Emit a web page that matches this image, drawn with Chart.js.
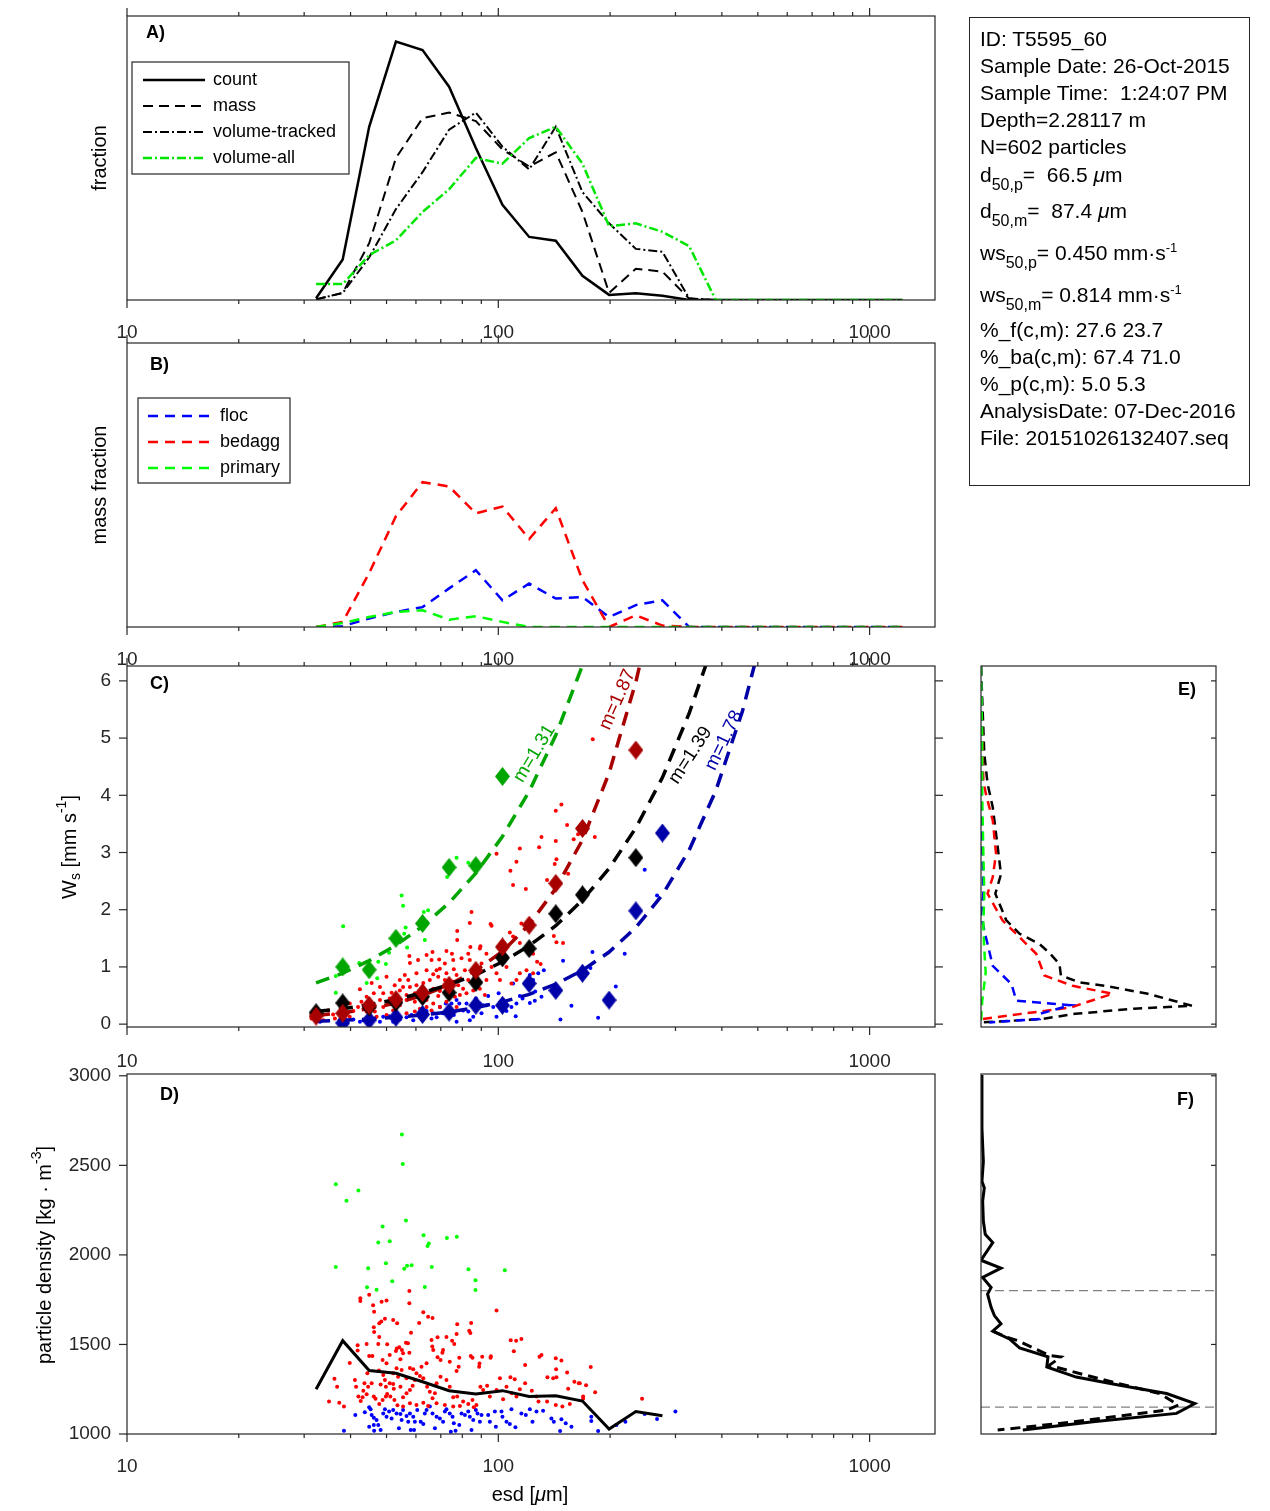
<!DOCTYPE html>
<html><head><meta charset="utf-8">
<script src="https://cdn.jsdelivr.net/npm/chart.js@4/dist/chart.umd.min.js"></script>
<style>
html,body{margin:0;padding:0;background:#fff;overflow:hidden;}
#wrap{position:relative;width:1270px;height:1511px;overflow:hidden;}
canvas.pl{position:absolute;left:0;top:0;}
#info{position:absolute;left:969px;top:17px;width:281px;height:469px;border:1.3px solid #262626;box-sizing:border-box;font-family:'Liberation Sans',Arial,sans-serif;font-size:21px;color:#000;}
#info div{position:absolute;left:10px;white-space:pre;line-height:24px;}
#info sub{font-size:16px;vertical-align:-8px;line-height:0;}
#info sup{font-size:13px;vertical-align:8px;line-height:0;}
</style></head>
<body><div id="wrap">
<canvas class="pl" id="cA" width="1270" height="1511"></canvas>
<canvas class="pl" id="cB" width="1270" height="1511"></canvas>
<canvas class="pl" id="cC" width="1270" height="1511"></canvas>
<canvas class="pl" id="cD" width="1270" height="1511"></canvas>
<canvas class="pl" id="cE" width="1270" height="1511"></canvas>
<canvas class="pl" id="cF" width="1270" height="1511"></canvas>
<div id="info">
<div style="top:9px">ID: T5595_60</div>
<div style="top:36px">Sample Date: 26-Oct-2015</div>
<div style="top:63px">Sample Time:  1:24:07 PM</div>
<div style="top:90px">Depth=2.28117 m</div>
<div style="top:117px">N=602 particles</div>
<div style="top:145px">d<sub>50,p</sub>=  66.5 <i>μ</i>m</div>
<div style="top:181px">d<sub>50,m</sub>=  87.4 <i>μ</i>m</div>
<div style="top:223px">ws<sub>50,p</sub>= 0.450 mm·s<sup>-1</sup></div>
<div style="top:265px">ws<sub>50,m</sub>= 0.814 mm·s<sup>-1</sup></div>
<div style="top:300px">%_f(c,m): 27.6 23.7</div>
<div style="top:327px">%_ba(c,m): 67.4 71.0</div>
<div style="top:354px">%_p(c,m): 5.0 5.3</div>
<div style="top:381px">AnalysisDate: 07-Dec-2016</div>
<div style="top:408px">File: 20151026132407.seq</div>
</div>
</div>
<script>
// ---------------- DATA ----------------
const bins = [32.3, 38.1, 44.9, 53.0, 62.5, 73.7, 87.0, 102.6, 121.1, 142.8, 168.5, 198.8, 234.6, 276.7, 326.5, 385.2, 454.4, 536.1, 632.5, 746.2, 880.4, 1038.7, 1225.4];
const xTickValues = [10, 100, 1000];
const xMinorTicks = [20, 30, 40, 50, 60, 70, 80, 90, 200, 300, 400, 500, 600, 700, 800, 900];

// Panel A (fraction)
const fracCount = [0.006, 0.143, 0.61, 0.91, 0.88, 0.751, 0.535, 0.335, 0.222, 0.209, 0.085, 0.018, 0.024, 0.015, 0, 0, 0, 0, 0, 0, 0, 0, 0];
const fracMass = [0.002, 0.025, 0.20, 0.50, 0.64, 0.66, 0.63, 0.53, 0.47, 0.52, 0.31, 0.025, 0.11, 0.10, 0.005, 0, 0, 0, 0, 0, 0, 0, 0];
const fracVolTracked = [0.002, 0.025, 0.15, 0.32, 0.45, 0.60, 0.66, 0.54, 0.46, 0.61, 0.38, 0.27, 0.18, 0.17, 0.006, 0, 0, 0, 0, 0, 0, 0, 0];
const fracVolAll = [0.056, 0.056, 0.158, 0.21, 0.31, 0.39, 0.50, 0.48, 0.57, 0.61, 0.48, 0.26, 0.27, 0.24, 0.19, 0, 0, 0, 0, 0, 0, 0, 0];

// Panel B (mass fraction)
const mfFloc = [0, 0.003, 0.03, 0.053, 0.07, 0.136, 0.20, 0.094, 0.153, 0.10, 0.106, 0.035, 0.077, 0.094, 0, 0, 0, 0, 0, 0, 0, 0, 0];
const mfBedagg = [0, 0.018, 0.19, 0.39, 0.51, 0.495, 0.40, 0.424, 0.31, 0.418, 0.165, 0, 0.041, 0.005, 0, 0, 0, 0, 0, 0, 0, 0, 0];
const mfPrimary = [0, 0.014, 0.035, 0.053, 0.059, 0.026, 0.038, 0.018, 0, 0, 0, 0, 0, 0, 0, 0, 0, 0, 0, 0, 0, 0, 0];

// Panel C (settling velocity)
const wsTicks = [0, 1, 2, 3, 4, 5, 6];
const binWsAll = [0.2, 0.37, 0.3, 0.38, 0.48, 0.55, 0.73, 1.16, 1.32, 1.93, 2.26, null, 2.91];
const binWsBedagg = [0.14, 0.19, 0.33, 0.43, 0.55, 0.68, 0.94, 1.35, 1.73, 2.46, 3.42, null, 4.79];
const binWsFloc = [null, 0.02, 0.07, 0.12, 0.17, 0.21, 0.33, 0.33, 0.71, 0.59, 0.89, 0.42, 1.98, 3.34];
const binWsPrimary = [null, 1.0, 0.95, 1.5, 1.76, 2.74, 2.77, 4.33];

const fitGreenEsd = [32.3, 38.1, 44.9, 53.0, 62.5, 73.7, 87.0, 102.6, 121.1, 142.8, 168.5];
const fitGreenWs = [0.72, 0.89, 1.11, 1.38, 1.71, 2.12, 2.64, 3.28, 4.07, 5.05, 6.27];
const fitRedEsd = [32.3, 38.1, 44.9, 53.0, 62.5, 73.7, 87.0, 102.6, 121.1, 142.8, 168.5, 198.8, 234.6, 245];
const fitRedWs = [0.15, 0.20, 0.27, 0.37, 0.50, 0.69, 0.94, 1.27, 1.74, 2.37, 3.22, 4.39, 5.98, 6.5];
const fitBlackEsd = [32.3, 38.1, 44.9, 53.0, 62.5, 73.7, 87.0, 102.6, 121.1, 142.8, 168.5, 198.8, 234.6, 276.7, 326.5, 370];
const fitBlackWs = [0.22, 0.27, 0.34, 0.43, 0.55, 0.69, 0.86, 1.09, 1.37, 1.72, 2.17, 2.72, 3.43, 4.31, 5.43, 6.45];
const fitBlueEsd = [32.3, 38.1, 44.9, 53.0, 62.5, 73.7, 87.0, 102.6, 121.1, 142.8, 168.5, 198.8, 234.6, 276.7, 326.5, 385.2, 454.4, 500];
const fitBlueWs = [0.05, 0.066, 0.089, 0.12, 0.16, 0.21, 0.29, 0.39, 0.52, 0.70, 0.94, 1.26, 1.69, 2.26, 3.04, 4.08, 5.47, 6.5];

const cGreenEsd = [38.2, 36.5, 36.5, 42.2, 47.5, 49.8, 47.2, 50.8, 54.9, 55.4, 56.3, 63.4, 63.0, 64.7, 56.8, 77.2, 72.8, 83.0, 44.2, 55.8];
const cGreenWs = [1.71, 0.84, 0.55, 1.07, 1.09, 1.05, 0.80, 1.25, 2.25, 2.07, 1.69, 1.47, 1.96, 1.99, 1.34, 2.91, 2.57, 2.82, 0.72, 1.58];

const cRedEsd = [147.9,142.8,153.2,130.7,142.8,159.6,164.0,181.9,114.3,128.8,
98.9,143.4,111.9,107.8,141.9,154.2,135.3,109.6,118.6,84.7,
83.8,95.3,95.9,115.4,107.4,109.6,114.3,141.1,149.4,143.4,
77.5,77.5,64.1,66.5,72.5,69.3,75.0,75.6,83.0,84.1,
89.2,89.5,92.9,101.0,103.0,105.2,124.1,127.2,57.6,57.8,
60.8,69.6,68.2,72.5,75.9,77.2,81.3,87.3,95.9,98.9,
101.0,108.5,114.3,119.1,130.0,124.1,92.9,83.0,66.8,65.4,
62.8,60.2,57.8,54.3,50.0,48.0,45.6,42.4,46.2,49.0,
51.6,54.3,56.6,59.6,63.4,66.8,69.6,72.5,76.4,78.8,
82.1,85.6,89.2,92.0,80.4,42.8,45.1,46.5,49.0,50.5,
52.1,54.3,56.6,59.6,61.5,64.1,66.8,69.6,72.5,77.2,
59.6,56.6,53.2,50.0,47.0,44.2,40.7,39.8,38.2,35.9,
34.8,33.1,31.4,33.8,61.5,64.1,66.1,68.9,71.0,74.8,
78.0,83.8,89.2,105.2,111.9,90.1,68.9,71.8,75.6,52.6,
56.0,44.2,48.0,51.0,39.8,36.3,38.2,41.9,66.1,64.1,
60.2,57.2,55.4,71.8,79.6,179.6];
const cRedWs = [3.84,3.73,3.48,3.27,3.20,3.23,3.32,3.27,3.07,3.09,
2.98,2.88,2.84,2.68,2.80,2.63,2.52,2.43,2.36,1.96,
1.77,1.75,1.72,1.76,1.60,1.53,1.42,1.54,1.42,1.43,
1.63,1.47,1.21,1.26,1.28,1.13,1.23,1.12,1.23,1.35,
1.32,1.36,1.23,1.23,1.12,1.18,1.23,1.09,1.19,1.07,
1.12,0.97,0.94,0.89,0.96,0.86,0.94,0.86,1.00,0.89,
0.77,0.71,0.89,0.94,1.05,0.89,0.77,0.77,0.87,0.77,
0.72,0.68,0.65,0.77,0.83,0.65,0.72,0.61,0.54,0.54,
0.55,0.59,0.51,0.54,0.58,0.62,0.58,0.54,0.48,0.51,
0.54,0.59,0.62,0.51,0.62,0.39,0.36,0.22,0.30,0.36,
0.24,0.33,0.42,0.39,0.27,0.42,0.36,0.30,0.39,0.30,
0.22,0.19,0.16,0.16,0.13,0.22,0.23,0.36,0.20,0.17,
0.24,0.13,0.10,0.07,0.13,0.30,0.24,0.49,0.65,0.62,
0.68,1.12,0.94,1.00,0.77,1.06,0.83,0.77,0.74,0.68,
0.86,0.48,0.42,0.45,0.13,0.10,0.33,0.30,1.12,0.94,
0.89,0.77,0.65,1.06,1.15,4.98];

const cBlueEsd = [247.9,267.6,219.0,179.3,149.4,177.0,207.2,157.4,147.0,185.7,
132.6,128.1,121.6,124.1,125.7,130.7,125.4,121.6,114.3,111.4,
108.5,105.2,98.9,96.9,93.9,91.0,90.1,89.2,87.0,85.6,
83.0,83.8,80.4,78.5,77.2,75.9,74.0,72.2,71.0,69.6,
68.2,66.8,66.1,64.1,62.5,61.5,59.0,58.4,56.6,54.3,
53.2,52.1,50.8,49.0,48.0,46.5,45.1,43.3,42.4,40.7,
39.0,37.4,33.1,74.8,77.2,82.1,85.6,92.9,103.0,100.2,
109.6,116.2,111.9];
const cBlueWs = [2.70,2.25,1.23,1.26,1.11,0.98,0.66,0.32,0.08,0.11,
0.94,0.89,0.86,0.77,0.57,0.48,0.41,0.37,0.49,0.14,
0.30,0.23,0.13,0.30,0.49,0.33,0.19,0.36,0.45,0.13,
0.22,0.07,0.24,0.36,0.04,0.16,0.26,0.36,0.19,0.30,
0.12,0.19,0.10,0.23,0.27,0.13,0.07,0.16,0.12,0.08,
0.19,0.04,0.14,0.13,0.04,0.10,0.02,0.07,0.04,0.08,
0.04,0.07,0.04,0.36,0.42,0.36,0.33,0.33,0.42,0.54,
0.71,0.45,0.36];

// Panel D (particle density)
const rhoTicks = [1000, 1500, 2000, 2500, 3000];
const rhoMean = [1250, 1521, 1354, 1339, 1292, 1242, 1224, 1242, 1209, 1214, 1184, 1028, 1125, 1102];
const dGreenEsd = [55.0, 55.3, 36.5, 39.0, 42.0, 56.4, 48.8, 47.5, 51.0, 62.9, 72.7, 77.3, 64.5, 65.0, 36.5, 44.6, 49.8, 55.8, 56.8, 58.4, 66.2, 83.1, 104.1, 51.8, 44.3, 47.0, 63.4, 86.8, 86.8];
const dGreenRho = [2672, 2508, 2395, 2302, 2359, 2192, 2158, 2069, 2076, 2110, 2095, 2102, 2050, 2063, 1933, 1926, 1953, 1922, 1939, 1942, 1933, 1920, 1914, 1853, 1819, 1806, 1821, 1858, 1804];
const dRedEsd = [57.6,57.6,42.5,42.5,44.9,46.0,46.3,48.5,50.0,52.1,
53.4,49.5,48.4,47.8,46.2,46.3,62.8,64.7,66.5,61.2,
77.5,84.5,83.5,84.1,98.9,58.2,47.8,47.5,50.2,53.3,
53.0,54.1,55.0,56.4,57.1,57.6,55.4,66.1,68.6,72.5,
75.1,77.2,66.4,66.8,71.0,70.7,68.6,69.9,74.0,76.1,
78.5,78.2,77.2,84.3,85.2,90.5,95.5,95.3,89.0,88.8,
108.0,111.7,115.4,110.1,118.1,129.1,130.7,142.8,147.9,177.4,
143.1,153.2,135.6,140.5,143.4,160.3,164.7,172.3,182.3,169.2,
243.9,44.2,41.8,41.8,39.8,36.2,36.8,35.0,37.3,38.4,
41.1,41.4,43.6,44.4,44.9,45.8,47.7,49.0,49.5,51.0,
52.1,52.3,54.5,44.6,45.6,48.2,49.8,50.2,51.2,44.2,
43.1,42.0,42.6,43.3,46.7,47.8,49.8,52.5,53.5,55.4,
56.6,57.8,58.8,59.6,61.5,62.8,64.3,65.4,66.5,67.5,
68.2,69.9,72.5,74.0,75.6,77.5,80.4,83.0,85.2,87.3,
89.5,91.0,93.3,94.9,98.9,101.0,103.0,105.2,107.8,110.7,
108.7,111.9,114.3,118.1,123.1,126.7,128.3,135.3,142.8,148.8,
155.8,154.2,165.7,169.2,60.2,62.8,64.7,68.2,71.8,75.6,
78.8,85.9,55.4,57.8,56.6,54.9,53.2,57.8,59.0,60.2,
62.1,64.1,54.5,51.0,50.0,48.8,52.1,53.7,46.2,48.8];
const dRedRho = [1799,1730,1758,1743,1777,1719,1683,1739,1745,1637,
1618,1644,1628,1618,1596,1570,1680,1655,1648,1620,
1613,1620,1577,1564,1689,1566,1542,1503,1501,1477,
1464,1484,1469,1510,1506,1454,1451,1525,1540,1542,
1520,1559,1488,1469,1469,1454,1428,1413,1404,1503,
1426,1376,1352,1436,1426,1432,1434,1426,1393,1376,
1523,1520,1531,1462,1385,1432,1441,1423,1410,1374,
1361,1344,1317,1311,1317,1292,1283,1272,1233,1197,
1197,1503,1495,1466,1397,1309,1264,1181,1175,1153,
1302,1264,1283,1339,1436,1436,1354,1330,1302,1283,
1279,1253,1264,1264,1283,1277,1264,1223,1209,1222,
1205,1209,1184,1242,1197,1168,1209,1190,1160,1205,
1227,1246,1270,1302,1324,1311,1264,1236,1199,1227,
1283,1320,1302,1264,1205,1209,1181,1168,1190,1162,
1264,1246,1270,1209,1246,1311,1194,1264,1317,1305,
1227,1209,1250,1283,1242,1209,1181,1181,1162,1153,
1168,1253,1283,1209,1162,1175,1156,1171,1162,1153,
1156,1149,1153,1171,1311,1357,1367,1368,1361,1339,
1376,1395,1417,1441,1395,1413,1339,1320,1209,1190];
const dBlueEsd = [38.4,41.2,43.7,44.9,45.3,45.6,46.2,47.0,46.2,44.9,
47.5,48.2,46.3,49.0,49.5,50.0,50.8,51.6,52.1,53.2,
54.5,55.4,56.6,57.2,57.8,59.0,59.6,58.1,59.3,54.0,
54.9,60.5,61.8,62.8,63.4,64.1,65.4,66.5,68.2,69.6,
71.8,72.5,74.0,75.3,75.9,74.5,76.7,78.5,79.6,81.3,
83.0,83.8,85.6,84.7,87.0,87.9,89.2,90.1,93.9,94.9,
97.9,98.5,102.0,102.6,105.2,107.4,111.2,108.5,115.4,118.6,
121.6,123.6,126.7,132.0,139.0,141.1,147.9,151.9,157.4,146.7,
178.0,178.0,185.7,208.0,219.9,247.9,267.6,299.9,67.5,71.0];
const dBlueRho = [1018,1106,1121,1149,1138,1106,1091,1078,1050,1041,
1050,1022,1018,1115,1138,1097,1125,1087,1134,1115,
1112,1134,1101,1069,1115,1097,1069,1022,1022,1032,
1078,1134,1069,1056,1115,1134,1153,1115,1097,1087,
1125,1138,1115,1097,1060,1013,1018,1050,1115,1106,
1125,1097,1078,1022,1134,1115,1069,1106,1106,1069,
1125,1041,1125,1097,1069,1056,1037,1138,1115,1106,
1138,1069,1125,1130,1087,1069,1082,1060,1041,1017,
1097,1073,1017,1050,1069,1112,1084,1125,1032,1069];

// Panel E (ws distributions)
const eBlackPdf = [0, 0.007, 0.014, 0.028, 0.05, 0.071, 0.085, 0.061, 0.107, 0.164, 0.249, 0.29, 0.334, 0.34, 0.42, 0.53, 0.71, 0.90, 0.65, 0.40, 0.26, 0.007];
const eBlackWs = [6.25, 5.49, 4.73, 4.2, 3.79, 3.1, 2.62, 2.28, 1.82, 1.58, 1.40, 1.25, 1.05, 0.85, 0.73, 0.67, 0.53, 0.32, 0.27, 0.18, 0.09, 0.03];
const eRedPdf = [0, 0.004, 0.01, 0.021, 0.05, 0.064, 0.05, 0.028, 0.092, 0.149, 0.235, 0.27, 0.39, 0.56, 0.38, 0.164, 0.007];
const eRedWs = [6.25, 5.2, 4.26, 4.02, 3.56, 2.98, 2.57, 2.28, 1.81, 1.58, 1.23, 0.85, 0.67, 0.53, 0.29, 0.175, 0.09];
const eBluePdf = [0, 0.004, 0.003, 0.007, 0.01, 0.0, 0.017, 0.028, 0.05, 0.13, 0.15, 0.38, 0.25, 0.25, 0.035];
const eBlueWs = [6.25, 4.5, 3.5, 2.86, 2.3, 1.9, 1.58, 1.40, 1.02, 0.70, 0.41, 0.33, 0.18, 0.09, 0.03];
const eGreenPdf = [0, 0.005, 0.005, 0.01, 0.014, 0.01, 0.014, 0.02, 0.005, 0];
const eGreenWs = [6.25, 5.0, 4.0, 3.0, 2.3, 1.7, 1.3, 0.9, 0.4, 0.03];

// Panel F (density distributions)
const fSolidPdf = [0, 0.004, 0.01, 0.004, 0.014, 0.007, 0.01, 0.018, 0.05, 0.0, 0.085, 0.007, 0.043, 0.028, 0.043, 0.057, 0.085, 0.05, 0.121, 0.164, 0.285, 0.28, 0.405, 0.59, 0.79, 0.91, 0.832, 0.477, 0.178];
const fSolidRho = [3004, 2707, 2522, 2411, 2374, 2300, 2189, 2115, 2069, 1970, 1926, 1874, 1818, 1781, 1707, 1661, 1615, 1574, 1531, 1481, 1431, 1374, 1318, 1272, 1226, 1170, 1115, 1068, 1022];
const fDashPdf = [0.05, 0.107, 0.156, 0.29, 0.34, 0.29, 0.448, 0.576, 0.76, 0.84, 0.79, 0.334, 0.071];
const fDashRho = [1574, 1541, 1522, 1439, 1430, 1383, 1328, 1285, 1226, 1161, 1133, 1059, 1022];
const fRefRho = [1800, 1150];

// ---------------- HELPERS ----------------
const FONT = "'Liberation Sans', Arial, Helvetica, sans-serif";
const W = 1270, H = 1511;
const INK = '#262626';
Chart.defaults.font.family = FONT;
Chart.defaults.color = INK;

function pts(xs, ys) {
  const out = [];
  const n = Math.min(xs.length, ys.length);
  for (let i = 0; i < n; i++) if (ys[i] !== null && ys[i] !== undefined) out.push({x: xs[i], y: ys[i]});
  return out;
}
function lineDs(label, xs, ys, color, width, dash) {
  return {label, data: pts(xs, ys), showLine: true, borderColor: color, backgroundColor: color,
    borderWidth: width, borderDash: dash || [], pointRadius: 0, fill: false, tension: 0};
}
function dotDs(label, xs, ys, color, r) {
  return {label, data: pts(xs, ys), showLine: false, pointRadius: r, pointBorderWidth: 0,
    pointBackgroundColor: color, backgroundColor: color, borderColor: color};
}
function diamondImg(color) {
  const c = document.createElement('canvas'); c.width = 15; c.height = 19;
  const g = c.getContext('2d'); g.fillStyle = color; g.beginPath();
  g.moveTo(7.5, 0); g.lineTo(15, 9.5); g.lineTo(7.5, 19); g.lineTo(0, 9.5); g.closePath(); g.fill();
  return c;
}
function diamondDs(label, xs, ys, color) {
  return {label, data: pts(xs, ys), showLine: false, pointStyle: diamondImg(color), pointRadius: 8,
    backgroundColor: color, borderColor: color};
}

function rich(ctx, t, chart) {
  let x = t.x, y = t.y;
  if (t.data) { x = chart.scales.x.getPixelForValue(t.data[0]); y = chart.scales.y.getPixelForValue(t.data[1]); }
  const size = t.size || 20;
  const f = k => (t.bold ? 'bold ' : '') + (k === 'it' ? 'italic ' : '') +
    Math.round((k === 'sub' || k === 'sup') ? size * 0.72 : size) + 'px ' + FONT;
  ctx.save();
  ctx.translate(x, y); ctx.rotate((t.rot || 0) * Math.PI / 180);
  ctx.textBaseline = 'middle'; ctx.textAlign = 'left'; ctx.fillStyle = t.color || '#000';
  let w = 0;
  const widths = t.parts.map(p => { ctx.font = f(p[1]); const m = ctx.measureText(p[0]).width; w += m; return m; });
  let cx = t.align === 'left' ? 0 : -w / 2;
  t.parts.forEach((p, i) => {
    ctx.font = f(p[1]);
    const dy = p[1] === 'sub' ? size * 0.32 : p[1] === 'sup' ? -size * 0.4 : 0;
    ctx.fillText(p[0], cx, dy); cx += widths[i];
  });
  ctx.restore();
}

const mplot = {
  id: 'mplot',
  afterDatasetsDraw(chart, args, o) {
    const ctx = chart.ctx, a = chart.chartArea;
    ctx.save();
    ctx.setLineDash([]);
    ctx.strokeStyle = INK; ctx.lineWidth = 1.2;
    ctx.strokeRect(a.left, a.top, a.right - a.left, a.bottom - a.top);
    (o.ticks || []).forEach(t => {
      const sc = chart.scales[t.axis];
      const draw = (v, len) => {
        const p = sc.getPixelForValue(v);
        ctx.beginPath();
        if (t.side === 'bottom') { ctx.moveTo(p, a.bottom); ctx.lineTo(p, a.bottom + t.dir * len); }
        else if (t.side === 'top') { ctx.moveTo(p, a.top); ctx.lineTo(p, a.top - t.dir * len); }
        else if (t.side === 'left') { ctx.moveTo(a.left, p); ctx.lineTo(a.left - t.dir * len, p); }
        else { ctx.moveTo(a.right, p); ctx.lineTo(a.right + t.dir * len, p); }
        ctx.stroke();
      };
      (t.major || []).forEach(v => draw(v, t.len || 8));
      (t.minor || []).forEach(v => draw(v, t.mlen || 4));
    });
    if (o.legend) {
      const L = o.legend;
      ctx.fillStyle = '#fff'; ctx.fillRect(L.x, L.y, L.w, L.h);
      ctx.strokeStyle = INK; ctx.lineWidth = 1.2; ctx.strokeRect(L.x, L.y, L.w, L.h);
      L.rows.forEach(r => {
        const ds = chart.data.datasets[r.ds];
        ctx.strokeStyle = ds.borderColor; ctx.lineWidth = ds.borderWidth;
        ctx.setLineDash(ds.borderDash || []);
        ctx.beginPath(); ctx.moveTo(L.x0, r.y); ctx.lineTo(L.x1, r.y); ctx.stroke();
        ctx.setLineDash([]);
        ctx.fillStyle = '#000'; ctx.font = L.font; ctx.textBaseline = 'middle'; ctx.textAlign = 'left';
        ctx.fillText(ds.label, L.tx, r.y);
      });
    }
    (o.texts || []).forEach(t => rich(ctx, t, chart));
    ctx.restore();
  }
};

function xLog(area, show, pad) {
  return {
    type: 'logarithmic', min: 10, max: 1500,
    afterFit: s => { s.height = H - area.b; },
    afterBuildTicks: s => { s.ticks = xTickValues.map(v => ({value: v})); },
    grid: {display: false, drawTicks: false}, border: {display: false},
    ticks: {display: show, padding: pad, autoSkip: false, maxRotation: 0, minRotation: 0,
      font: {size: 19}, color: INK, callback: v => String(v)}
  };
}
function xLin(area, min, max) {
  return {
    type: 'linear', min, max,
    afterFit: s => { s.height = H - area.b; },
    grid: {display: false, drawTicks: false}, border: {display: false},
    ticks: {display: false}
  };
}
function yLin(area, min, max, tickVals, show) {
  return {
    type: 'linear', min, max,
    afterFit: s => { s.width = area.l; },
    afterBuildTicks: s => { if (tickVals) s.ticks = tickVals.map(v => ({value: v})); },
    grid: {display: false, drawTicks: false}, border: {display: false},
    ticks: {display: !!show, padding: 16, autoSkip: false, font: {size: 19}, color: INK, callback: v => String(v)}
  };
}
function mk(id, area, datasets, xs, ys, plug) {
  return new Chart(document.getElementById(id), {
    type: 'scatter',
    data: {datasets},
    options: {
      responsive: false, animation: false, events: [],
      layout: {padding: {left: 0, top: area.t, right: W - area.r, bottom: 0}},
      plugins: {legend: {display: false}, tooltip: {enabled: false}, mplot: plug},
      scales: {x: xs, y: ys}
    },
    plugins: [mplot]
  });
}
const xTicksTB = [
  {axis: 'x', side: 'bottom', dir: 1, major: xTickValues, minor: xMinorTicks},
  {axis: 'x', side: 'top', dir: 1, major: xTickValues, minor: xMinorTicks}
];

// ---------------- PANEL A ----------------
const aA = {l: 127, t: 16, r: 935, b: 300};
mk('cA', aA, [
  lineDs('volume-all', bins, fracVolAll, '#00E600', 2.5, [9, 3, 2, 3]),
  lineDs('count', bins, fracCount, '#000', 2.5, []),
  lineDs('mass', bins, fracMass, '#000', 2, [10, 6]),
  lineDs('volume-tracked', bins, fracVolTracked, '#000', 2, [9, 3, 2, 3])
], xLog(aA, true, 21), yLin(aA, 0, 1, null, false), {
  ticks: xTicksTB,
  legend: {x: 132, y: 62, w: 217, h: 112, x0: 143, x1: 205, tx: 213, font: '18px ' + FONT,
    rows: [{ds: 1, y: 80}, {ds: 2, y: 106}, {ds: 3, y: 132}, {ds: 0, y: 158}]},
  texts: [
    {parts: [['fraction', '']], x: 100, y: 158, rot: -90, size: 20},
    {parts: [['A)', '']], x: 146, y: 33, size: 18, bold: true, align: 'left'}
  ]
});

// ---------------- PANEL B ----------------
const aB = {l: 127, t: 343, r: 935, b: 627};
mk('cB', aB, [
  lineDs('primary', bins, mfPrimary, '#00FF00', 2.5, [10, 7]),
  lineDs('bedagg', bins, mfBedagg, '#FF0000', 2.5, [10, 7]),
  lineDs('floc', bins, mfFloc, '#0000FF', 2.5, [10, 7])
], xLog(aB, true, 21), yLin(aB, 0, 1, null, false), {
  ticks: xTicksTB,
  legend: {x: 138, y: 398, w: 152, h: 85, x0: 148, x1: 210, tx: 220, font: '18px ' + FONT,
    rows: [{ds: 2, y: 416}, {ds: 1, y: 442}, {ds: 0, y: 468}]},
  texts: [
    {parts: [['mass fraction', '']], x: 100, y: 485, rot: -90, size: 20},
    {parts: [['B)', '']], x: 150, y: 365, size: 18, bold: true, align: 'left'}
  ]
});

// ---------------- PANEL C ----------------
const aC = {l: 127, t: 666, r: 935, b: 1027};
const cGreen = '#00A600', cRed = '#A80000', cBlue = '#0000A8';
mk('cC', aC, [
  diamondDs('bedagg median', bins, binWsBedagg, cRed),
  diamondDs('all median', bins, binWsAll, '#000'),
  diamondDs('floc median', bins, binWsFloc, cBlue),
  diamondDs('primary median', bins, binWsPrimary, cGreen),
  lineDs('fit all', fitBlackEsd, fitBlackWs, '#000', 3.5, [14, 9]),
  lineDs('fit bedagg', fitRedEsd, fitRedWs, cRed, 3.5, [14, 9]),
  lineDs('fit floc', fitBlueEsd, fitBlueWs, cBlue, 3.5, [14, 9]),
  lineDs('fit primary', fitGreenEsd, fitGreenWs, cGreen, 3.5, [14, 9]),
  dotDs('primary', cGreenEsd, cGreenWs, '#00FF00', 2),
  dotDs('bedagg', cRedEsd, cRedWs, '#FF0000', 2),
  dotDs('floc', cBlueEsd, cBlueWs, '#0000FF', 2)
], xLog(aC, true, 23), yLin(aC, -0.05, 6.26, wsTicks, true), {
  ticks: [
    {axis: 'x', side: 'bottom', dir: 1, major: xTickValues, minor: xMinorTicks},
    {axis: 'x', side: 'top', dir: 1, major: xTickValues, minor: xMinorTicks},
    {axis: 'y', side: 'left', dir: 1, major: wsTicks},
    {axis: 'y', side: 'right', dir: 1, major: wsTicks}
  ],
  texts: [
    {parts: [['W', ''], ['s', 'sub'], [' [mm s', ''], ['-1', 'sup'], [']', '']], x: 70, y: 847, rot: -90, size: 20},
    {parts: [['C)', '']], x: 150, y: 684, size: 18, bold: true, align: 'left'},
    {parts: [['m=1.31', '']], data: [125.2, 4.73], rot: -59, size: 19, color: cGreen},
    {parts: [['m=1.87', '']], data: [209.5, 5.67], rot: -66, size: 19, color: cRed},
    {parts: [['m=1.39', '']], data: [329.4, 4.70], rot: -57, size: 19, color: '#000'},
    {parts: [['m=1.78', '']], data: [405.5, 4.96], rot: -64, size: 19, color: cBlue}
  ]
});

// ---------------- PANEL D ----------------
const aD = {l: 127, t: 1074, r: 935, b: 1434};
mk('cD', aD, [
  lineDs('mean density', bins, rhoMean, '#000', 3, []),
  dotDs('primary', dGreenEsd, dGreenRho, '#00FF00', 2),
  dotDs('bedagg', dRedEsd, dRedRho, '#FF0000', 2),
  dotDs('floc', dBlueEsd, dBlueRho, '#0000FF', 2)
], xLog(aD, true, 21), yLin(aD, 1000, 3010, rhoTicks, true), {
  ticks: [
    {axis: 'x', side: 'bottom', dir: 1, major: xTickValues, minor: xMinorTicks},
    {axis: 'y', side: 'left', dir: 1, major: rhoTicks}
  ],
  texts: [
    {parts: [['particle density [kg · m', ''], ['-3', 'sup'], [']', '']], x: 45, y: 1255, rot: -90, size: 20},
    {parts: [['esd [', ''], ['μ', 'it'], ['m]', '']], x: 530, y: 1495, size: 20},
    {parts: [['D)', '']], x: 160, y: 1095, size: 18, bold: true, align: 'left'}
  ]
});

// ---------------- PANEL E ----------------
const aE = {l: 981, t: 666, r: 1216, b: 1027};
mk('cE', aE, [
  lineDs('primary', eGreenPdf, eGreenWs, '#00FF00', 2.5, [9, 6]),
  lineDs('floc', eBluePdf, eBlueWs, '#0000FF', 2.5, [9, 6]),
  lineDs('bedagg', eRedPdf, eRedWs, '#FF0000', 2.5, [9, 6]),
  lineDs('all', eBlackPdf, eBlackWs, '#000', 2.5, [9, 6])
], xLin(aE, 0, 1), yLin(aE, -0.05, 6.26, wsTicks, false), {
  ticks: [{axis: 'y', side: 'right', dir: -1, major: wsTicks, len: 5}],
  texts: [{parts: [['E)', '']], x: 1178, y: 690, size: 18, bold: true, align: 'left'}]
});

// ---------------- PANEL F ----------------
const aF = {l: 981, t: 1074, r: 1216, b: 1434};
mk('cF', aF, [
  lineDs('all', fSolidPdf, fSolidRho, '#000', 3, []),
  lineDs('all (mass)', fDashPdf, fDashRho, '#000', 3, [10, 6]),
  lineDs('ref1', [0, 1], [fRefRho[0], fRefRho[0]], '#808080', 1.3, [9, 5]),
  lineDs('ref2', [0, 1], [fRefRho[1], fRefRho[1]], '#808080', 1.3, [9, 5])
], xLin(aF, 0, 1), yLin(aF, 1000, 3010, rhoTicks, false), {
  ticks: [{axis: 'y', side: 'right', dir: -1, major: rhoTicks, len: 5}],
  texts: [{parts: [['F)', '']], x: 1177, y: 1100, size: 18, bold: true, align: 'left'}]
});
</script>
</body></html>
